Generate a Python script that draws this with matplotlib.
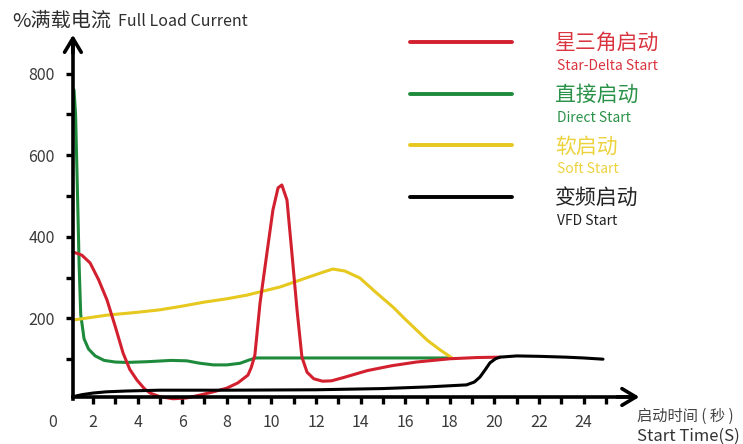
import matplotlib
matplotlib.use("Agg")
import matplotlib.pyplot as plt
from matplotlib.lines import Line2D
from matplotlib.ticker import FixedLocator

plt.rcParams['font.family'] = ['Noto Sans CJK SC', 'DejaVu Sans']

# ---- data ----
direct_x = [1.15, 1.22, 1.3, 1.38, 1.45, 1.6, 1.8, 2.1, 2.5, 3.0, 3.5, 4.5, 5.5, 6.2,
            6.8, 7.4, 8.0, 8.6, 9.0, 9.3, 10, 12, 14, 16, 18]
direct_y = [760, 700, 520, 330, 210, 150, 125, 108, 97, 93, 92, 94, 97, 96,
            90, 86, 86, 90, 98, 103, 103, 103, 103, 103, 103]

star_x = [1.1, 1.5, 1.87, 2.25, 2.63, 3.0, 3.35, 3.65, 3.97, 4.3, 4.56, 5.0, 5.6, 6.2,
          6.8, 7.4, 8.0, 8.5, 8.95, 9.1, 9.26, 9.49, 9.8, 10.07, 10.3, 10.47, 10.7,
          10.92, 11.15, 11.37, 11.6, 11.9, 12.3, 12.7, 13.3, 14.3, 15.4, 16.5, 18.0,
          19.2, 20.25]
star_y = [363, 355, 336, 295, 245, 180, 115, 75, 49, 28, 17, 8, 3, 5,
          12, 20, 29, 42, 61, 80, 110, 237, 360, 466, 520, 527, 490,
          360, 221, 105, 68, 52, 46, 47, 56, 72, 84, 93, 101, 104, 105]

soft_x = [1.1, 2.0, 2.63, 4.0, 5.0, 6.0, 7.0, 8.0, 8.9, 10.39, 11.5, 12.3, 12.76, 13.3,
          13.97, 14.6, 15.0, 15.45, 16.0, 16.5, 17.0, 17.56, 18.1]
soft_y = [196, 203, 208, 215, 221, 230, 240, 248, 257, 277, 298, 313, 321, 316,
          299, 268, 249, 228, 198, 172, 146, 123, 103]

vfd_x = [1.1, 1.5, 2.0, 2.6, 3.5, 5.0, 8.0, 12.0, 15.0, 17.0, 18.75, 19.1, 19.35, 19.6,
         19.8, 20.05, 20.25, 21.0, 22.0, 23.2, 24.0, 24.87]
vfd_y = [8, 13, 17, 20, 22, 24, 24, 25, 28, 32, 37, 44, 56, 75,
         91, 101, 105, 108, 107, 105, 103, 100]

series = [
    ("星三角启动", "Star-Delta Start", star_x, star_y, "#d2202f", "#d9343f"),
    ("直接启动", "Direct Start", direct_x, direct_y, "#1e8a3c", "#2a9248"),
    ("软启动", "Soft Start", soft_x, soft_y, "#e6c81e", "#ecd23e"),
    ("变频启动", "VFD Start", vfd_x, vfd_y, "#000000", "#222222"),
]

x_major = [2, 4, 6, 8, 10, 12, 14, 16, 18, 20, 22, 24]
x_minor = [3, 5, 7, 9, 11, 13, 15, 17, 19, 21, 23, 25]
y_major = [200, 400, 600, 800]
y_minor = [100, 300, 500, 700]

W, H = 743, 444
fig = plt.figure(figsize=(W / 100, H / 100), dpi=100)
ax = fig.add_axes([0.0651, 0.0532, 0.8404, 0.8729])
ax.set_xlim(0, 28)
ax.set_ylim(-50, 900)

# curves
draw_order = [1, 2, 0, 3]
for i in draw_order:
    cn, en, xs, ys, col, tcol = series[i]
    ax.plot(xs, ys, color=col, lw=2.2, solid_capstyle='round', clip_on=False, zorder=3)

# axes: spines placed at the origin corner, with arrows
x0, y0 = 1.1, 7.4
for s in ['top', 'right']:
    ax.spines[s].set_visible(False)
ax.spines['left'].set_position(('data', x0))
ax.spines['bottom'].set_position(('data', y0))
ax.spines['left'].set_bounds(y0 - 4, 880)
ax.spines['bottom'].set_bounds(x0, 26.0)
for s in ['left', 'bottom']:
    ax.spines[s].set_linewidth(2.6)
    ax.spines[s].set_zorder(4)

arrow = dict(arrowstyle='->,head_length=1.0,head_width=0.6', lw=2.6, color='black',
             shrinkA=0, shrinkB=0)
ax.annotate('', xy=(26.5, y0), xytext=(25.5, y0), arrowprops=arrow, annotation_clip=False)
ax.annotate('', xy=(x0, 895), xytext=(x0, 850), arrowprops=arrow, annotation_clip=False)

ax.xaxis.set_major_locator(FixedLocator(x_major))
ax.xaxis.set_minor_locator(FixedLocator(x_minor))
ax.yaxis.set_major_locator(FixedLocator(y_major))
ax.yaxis.set_minor_locator(FixedLocator(y_minor))
ax.tick_params(which='both', direction='out', length=5, width=2.4, color='black')
ax.tick_params(axis='x', which='major', pad=7, labelsize=11.5, labelcolor='#3a3a3a')
ax.tick_params(axis='y', which='major', pad=8, labelsize=11.5, labelcolor='#3a3a3a')

fig.text(53 / W, 1 - 422 / H, "0", ha='center', va='center', fontsize=11.5, color='#3a3a3a')

# titles
fig.text(12 / W, 1 - 21 / H, "%满载电流", ha='left', va='center', fontsize=14.5, color='#2e2e2e')
fig.text(118 / W, 1 - 21 / H, "Full Load Current", ha='left', va='center', fontsize=11.5,
         color='#2e2e2e')
fig.text(637 / W, 1 - 416 / H, "启动时间 ( 秒 )", ha='left', va='center', fontsize=11,
         color='#444444')
fig.text(637 / W, 1 - 436 / H, "Start Time(S)", ha='left', va='center', fontsize=12,
         color='#333333')

# legend
for k, (cn, en, xs, ys, col, tcol) in enumerate(series):
    ly = 42 + k * 51.7
    fig.add_artist(Line2D([410 / W, 512 / W], [1 - ly / H, 1 - ly / H], color=col, lw=2.8,
                          solid_capstyle='round', transform=fig.transFigure))
    fig.text(555 / W, 1 - (ly + 1) / H, cn, ha='left', va='center', fontsize=15, color=tcol)
    fig.text(557 / W, 1 - (ly + 24) / H, en, ha='left', va='center', fontsize=10, color=tcol)

fig.savefig("out.png", dpi=100)
